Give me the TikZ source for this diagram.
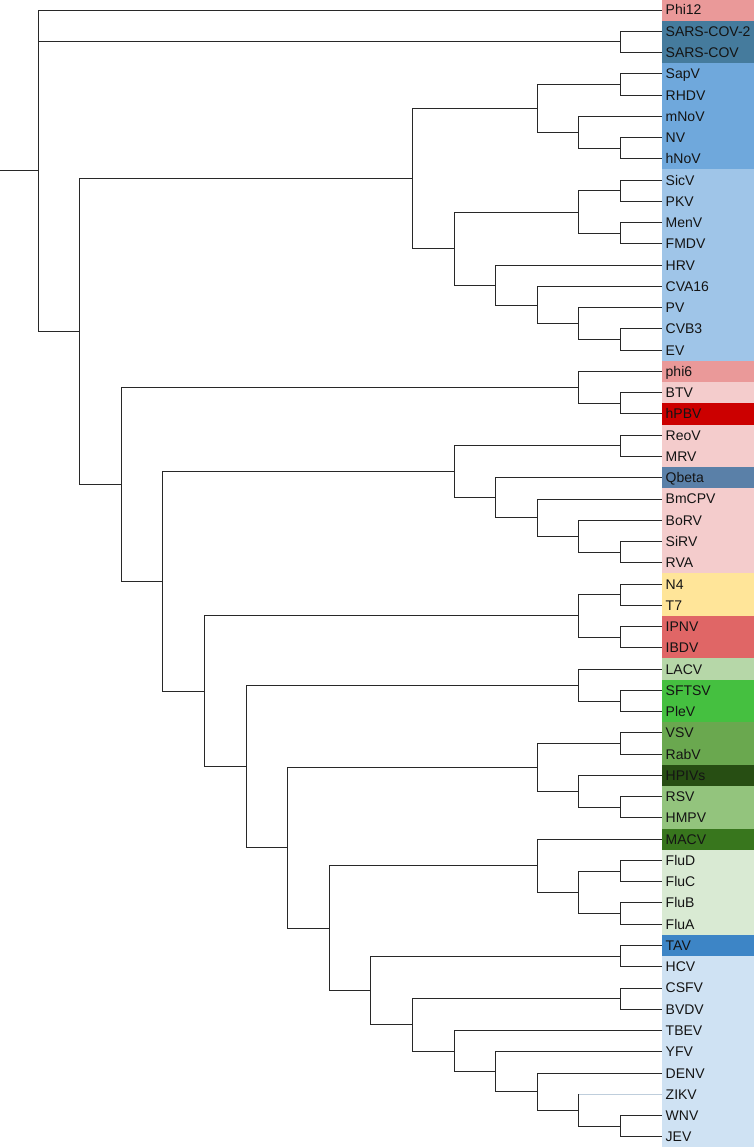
\documentclass[tikz,border=0pt]{standalone}
\usepackage{fontspec}
\setmainfont{Liberation Sans}
\definecolor{cpink}{HTML}{EA9999}
\definecolor{csars}{HTML}{457B9D}
\definecolor{cnoro}{HTML}{6FA8DC}
\definecolor{cpico}{HTML}{9FC5E8}
\definecolor{creo}{HTML}{F4CCCC}
\definecolor{cred}{HTML}{CC0000}
\definecolor{cqb}{HTML}{5A80A8}
\definecolor{cyel}{HTML}{FFE599}
\definecolor{cbir}{HTML}{E06666}
\definecolor{clac}{HTML}{B6D7A8}
\definecolor{cphl}{HTML}{45C040}
\definecolor{crha}{HTML}{6AA84F}
\definecolor{chpi}{HTML}{274E13}
\definecolor{crsv}{HTML}{93C47D}
\definecolor{cmac}{HTML}{38761D}
\definecolor{cflu}{HTML}{D9EAD3}
\definecolor{ctav}{HTML}{3D85C6}
\definecolor{cfla}{HTML}{CFE2F3}
\definecolor{cline}{RGB}{40,40,40}
\definecolor{ctext}{RGB}{20,20,20}
\begin{document}
\begin{tikzpicture}[x=1pt,y=-21.26pt,
  leaf/.style={anchor=west, minimum height=21.26pt, inner xsep=3.5pt, inner ysep=0pt,
    text width=85pt, align=left, text height=10pt, text depth=0pt,
    font=\fontsize{14}{16}\selectfont, text=ctext},
  edge/.style={draw=cline, line width=0.9pt},
  faint/.style={draw=cfla!80!gray, line width=0.9pt}]
\useasboundingbox (0pt,0pt) rectangle (754pt,-1148pt);
\begin{scope}[yshift=-10pt]
% leaves
\foreach \n/\t/\c [count=\i from 0] in {
 Phi12/Phi12/cpink, SARStwo/SARS-COV-2/csars, SARSone/SARS-COV/csars,
 SapV/SapV/cnoro, RHDV/RHDV/cnoro, mNoV/mNoV/cnoro, NV/NV/cnoro, hNoV/hNoV/cnoro,
 SicV/SicV/cpico, PKV/PKV/cpico, MenV/MenV/cpico, FMDV/FMDV/cpico, HRV/HRV/cpico,
 CVA16/CVA16/cpico, PV/PV/cpico, CVB3/CVB3/cpico, EV/EV/cpico,
 phi6/phi6/cpink, BTV/BTV/creo, hPBV/hPBV/cred, ReoV/ReoV/creo, MRV/MRV/creo,
 Qbeta/Qbeta/cqb, BmCPV/BmCPV/creo, BoRV/BoRV/creo, SiRV/SiRV/creo, RVA/RVA/creo,
 N4/N4/cyel, T7/T7/cyel, IPNV/IPNV/cbir, IBDV/IBDV/cbir,
 LACV/LACV/clac, SFTSV/SFTSV/cphl, PleV/PleV/cphl, VSV/VSV/crha, RabV/RabV/crha,
 HPIVs/HPIVs/chpi, RSV/RSV/crsv, HMPV/HMPV/crsv, MACV/MACV/cmac,
 FluD/FluD/cflu, FluC/FluC/cflu, FluB/FluB/cflu, FluA/FluA/cflu,
 TAV/TAV/ctav, HCV/HCV/cfla, CSFV/CSFV/cfla, BVDV/BVDV/cfla, TBEV/TBEV/cfla,
 YFV/YFV/cfla, DENV/DENV/cfla, ZIKV/ZIKV/cfla, WNV/WNV/cfla, JEV/JEV/cfla}
 { \node[leaf, fill=\c] (\n) at (662,\i) {\t}; }
% internal nodes
\coordinate (root) at (0,7.5590515);
\coordinate (A) at (38,7.5590515);
\coordinate (SARS) at (620.4,1.5);
\coordinate (B) at (79.6,15.118103);
\coordinate (C) at (412.4,7.921875);
\coordinate (D) at (121.2,22.314331);
\coordinate (E) at (537.2,4.625);
\coordinate (F) at (454,11.21875);
\coordinate (SapRH) at (620.4,3.5);
\coordinate (mNo) at (578.8,5.75);
\coordinate (NVh) at (620.4,6.5);
\coordinate (G) at (578.8,9.5);
\coordinate (H) at (495.6,12.9375);
\coordinate (SicPK) at (620.4,8.5);
\coordinate (MenFM) at (620.4,10.5);
\coordinate (CVAn) at (537.2,13.875);
\coordinate (PVn) at (578.8,14.75);
\coordinate (CVBEV) at (620.4,15.5);
\coordinate (I) at (578.8,17.75);
\coordinate (J) at (162.8,26.878662);
\coordinate (BTVh) at (620.4,18.5);
\coordinate (K) at (454,21.71875);
\coordinate (L) at (204.4,32.038574);
\coordinate (ReoMR) at (620.4,20.5);
\coordinate (Qb) at (495.6,22.9375);
\coordinate (BmC) at (537.2,23.875);
\coordinate (BoR) at (578.8,24.75);
\coordinate (SiRVA) at (620.4,25.5);
\coordinate (M) at (578.8,28.5);
\coordinate (Nn) at (246,35.577148);
\coordinate (NT) at (620.4,27.5);
\coordinate (IPIB) at (620.4,29.5);
\coordinate (O) at (578.8,31.75);
\coordinate (P) at (287.6,39.404297);
\coordinate (SFPl) at (620.4,32.5);
\coordinate (Q) at (537.2,35.625);
\coordinate (Rr) at (329.2,43.183594);
\coordinate (VSRab) at (620.4,34.5);
\coordinate (HPI) at (578.8,36.75);
\coordinate (RSHM) at (620.4,37.5);
\coordinate (S) at (537.2,40.25);
\coordinate (T) at (370.8,46.117188);
\coordinate (Flu) at (578.8,41.5);
\coordinate (FluDC) at (620.4,40.5);
\coordinate (FluBA) at (620.4,42.5);
\coordinate (TAHC) at (620.4,44.5);
\coordinate (Vv) at (412.4,47.734375);
\coordinate (CSBV) at (620.4,46.5);
\coordinate (W) at (454,48.96875);
\coordinate (X) at (495.6,49.9375);
\coordinate (Y) at (537.2,50.875);
\coordinate (Z) at (578.8,51.75);
\coordinate (Ztop) at (578.8,51);
\coordinate (WNJE) at (620.4,52.5);
% edges
\path[edge] (root) -- (A);
\path[edge] (A) |- (Phi12.west) (A) |- (SARS) (A) |- (B);
\path[edge] (SARS) |- (SARStwo.west) (SARS) |- (SARSone.west);
\path[edge] (B) |- (C) (B) |- (D);
\path[edge] (C) |- (E) (C) |- (F);
\path[edge] (E) |- (SapRH) (E) |- (mNo);
\path[edge] (SapRH) |- (SapV.west) (SapRH) |- (RHDV.west);
\path[edge] (mNo) |- (mNoV.west) (mNo) |- (NVh);
\path[edge] (NVh) |- (NV.west) (NVh) |- (hNoV.west);
\path[edge] (F) |- (G) (F) |- (H);
\path[edge] (G) |- (SicPK) (G) |- (MenFM);
\path[edge] (SicPK) |- (SicV.west) (SicPK) |- (PKV.west);
\path[edge] (MenFM) |- (MenV.west) (MenFM) |- (FMDV.west);
\path[edge] (H) |- (HRV.west) (H) |- (CVAn);
\path[edge] (CVAn) |- (CVA16.west) (CVAn) |- (PVn);
\path[edge] (PVn) |- (PV.west) (PVn) |- (CVBEV);
\path[edge] (CVBEV) |- (CVB3.west) (CVBEV) |- (EV.west);
\path[edge] (D) |- (I) (D) |- (J);
\path[edge] (I) |- (phi6.west) (I) |- (BTVh);
\path[edge] (BTVh) |- (BTV.west) (BTVh) |- (hPBV.west);
\path[edge] (J) |- (K) (J) |- (L);
\path[edge] (K) |- (ReoMR) (K) |- (Qb);
\path[edge] (ReoMR) |- (ReoV.west) (ReoMR) |- (MRV.west);
\path[edge] (Qb) |- (Qbeta.west) (Qb) |- (BmC);
\path[edge] (BmC) |- (BmCPV.west) (BmC) |- (BoR);
\path[edge] (BoR) |- (BoRV.west) (BoR) |- (SiRVA);
\path[edge] (SiRVA) |- (SiRV.west) (SiRVA) |- (RVA.west);
\path[edge] (L) |- (M) (L) |- (Nn);
\path[edge] (M) |- (NT) (M) |- (IPIB);
\path[edge] (NT) |- (N4.west) (NT) |- (T7.west);
\path[edge] (IPIB) |- (IPNV.west) (IPIB) |- (IBDV.west);
\path[edge] (Nn) |- (O) (Nn) |- (P);
\path[edge] (O) |- (LACV.west) (O) |- (SFPl);
\path[edge] (SFPl) |- (SFTSV.west) (SFPl) |- (PleV.west);
\path[edge] (P) |- (Q) (P) |- (Rr);
\path[edge] (Q) |- (VSRab) (Q) |- (HPI);
\path[edge] (VSRab) |- (VSV.west) (VSRab) |- (RabV.west);
\path[edge] (HPI) |- (HPIVs.west) (HPI) |- (RSHM);
\path[edge] (RSHM) |- (RSV.west) (RSHM) |- (HMPV.west);
\path[edge] (Rr) |- (S) (Rr) |- (T);
\path[edge] (S) |- (MACV.west) (S) |- (Flu);
\path[edge] (Flu) |- (FluDC) (Flu) |- (FluBA);
\path[edge] (FluDC) |- (FluD.west) (FluDC) |- (FluC.west);
\path[edge] (FluBA) |- (FluB.west) (FluBA) |- (FluA.west);
\path[edge] (T) |- (TAHC) (T) |- (Vv);
\path[edge] (TAHC) |- (TAV.west) (TAHC) |- (HCV.west);
\path[edge] (Vv) |- (CSBV) (Vv) |- (W);
\path[edge] (CSBV) |- (CSFV.west) (CSBV) |- (BVDV.west);
\path[edge] (W) |- (TBEV.west) (W) |- (X);
\path[edge] (X) |- (YFV.west) (X) |- (Y);
\path[edge] (Y) |- (DENV.west) (Y) |- (Z);
\path[faint] (Ztop) -- (ZIKV.west);
\path[edge] (Z) -- (Ztop);
\path[edge] (Z) |- (WNJE);
\path[edge] (WNJE) |- (WNV.west) (WNJE) |- (JEV.west);
\end{scope}
\end{tikzpicture}
\end{document}
